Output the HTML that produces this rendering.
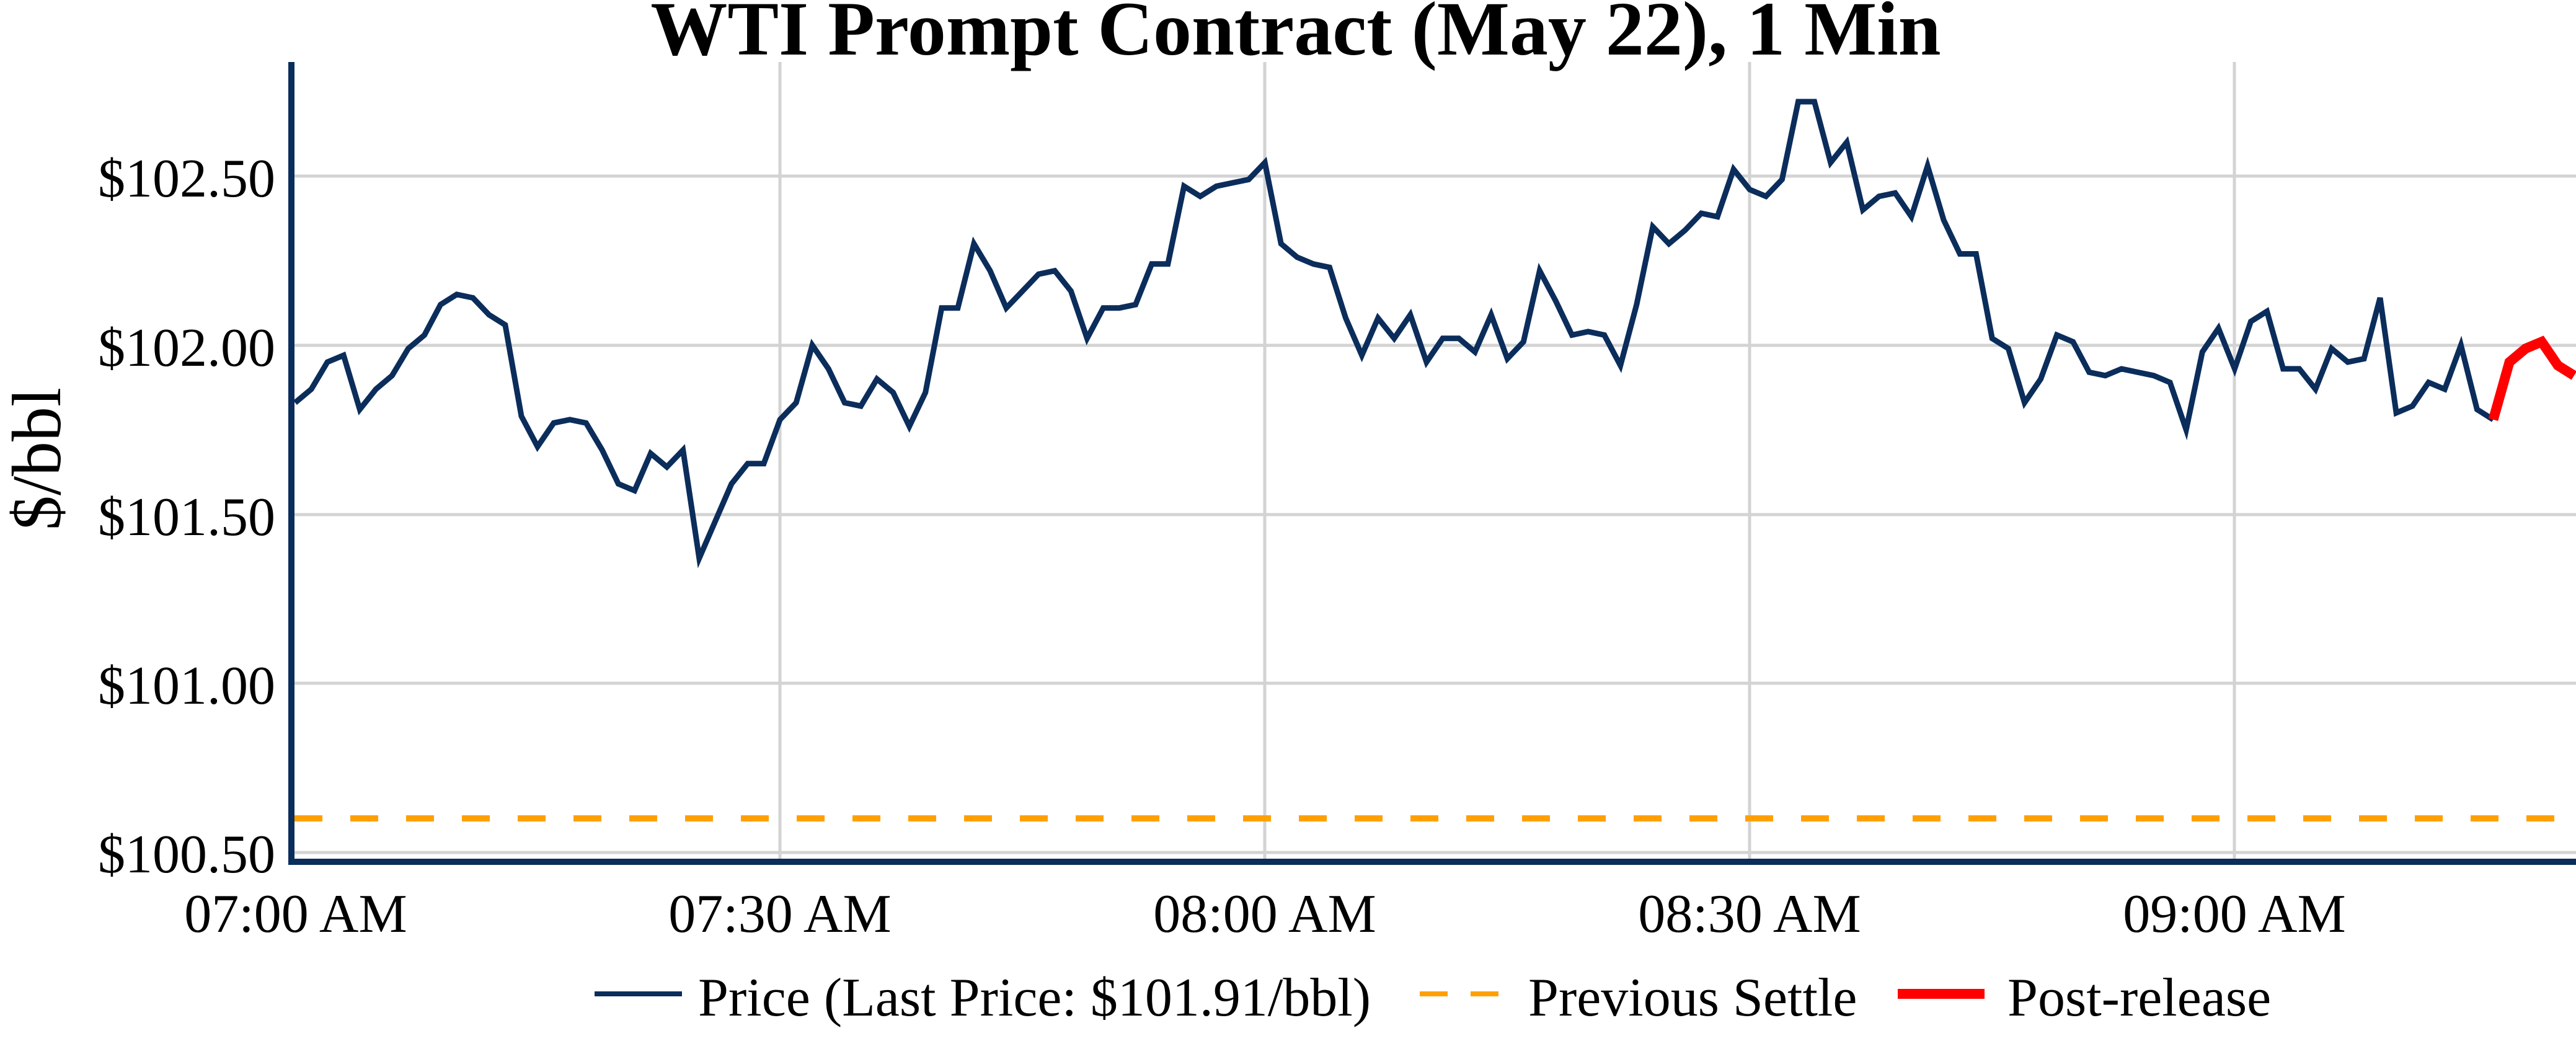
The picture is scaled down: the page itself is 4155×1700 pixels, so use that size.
<!DOCTYPE html>
<html><head><meta charset="utf-8"><style>
html,body{margin:0;padding:0;background:#fff}
svg{display:block;font-family:"Liberation Serif",serif}
</style></head><body>
<svg id="s" width="4155" height="1700" viewBox="0 0 4155 1700" xmlns="http://www.w3.org/2000/svg">
<defs><clipPath id="c"><rect x="470" y="100" width="3685" height="1290"/></clipPath></defs>
<text x="2090" y="88" font-size="124" font-weight="bold" text-anchor="middle">WTI Prompt Contract (May 22), 1 Min</text>
<g stroke="#d3d3d3" stroke-width="5">
<line x1="470" x2="4155" y1="284" y2="284"/>
<line x1="470" x2="4155" y1="557" y2="557"/>
<line x1="470" x2="4155" y1="830" y2="830"/>
<line x1="470" x2="4155" y1="1102" y2="1102"/>
<line x1="470" x2="4155" y1="1375" y2="1375"/>
<line x1="1258" x2="1258" y1="100" y2="1390"/>
<line x1="2040" x2="2040" y1="100" y2="1390"/>
<line x1="2822" x2="2822" y1="100" y2="1390"/>
<line x1="3604" x2="3604" y1="100" y2="1390"/>
</g>
<g font-size="88" text-anchor="end">
<text x="444" y="317">$102.50</text>
<text x="444" y="590">$102.00</text>
<text x="444" y="863">$101.50</text>
<text x="444" y="1135">$101.00</text>
<text x="444" y="1407">$100.50</text>
</g>
<g font-size="88" text-anchor="middle">
<text x="477" y="1503">07:00 AM</text>
<text x="1258" y="1503">07:30 AM</text>
<text x="2040" y="1503">08:00 AM</text>
<text x="2822" y="1503">08:30 AM</text>
<text x="3604" y="1503">09:00 AM</text>
</g>
<text transform="translate(97,740) rotate(-90)" font-size="112" text-anchor="middle">$/bbl</text>
<g clip-path="url(#c)">
<line x1="475" x2="4155" y1="1320" y2="1320" stroke="#ffa000" stroke-width="10" stroke-dasharray="45 45"/>
<polyline id="p" fill="none" stroke="#0b2d5b" stroke-width="9" stroke-linejoin="miter"/>
<polyline id="r" fill="none" stroke="#ff0000" stroke-width="16"/>
</g>
<line x1="470" x2="470" y1="100" y2="1395" stroke="#0b2d5b" stroke-width="10"/>
<line x1="465" x2="4155" y1="1390" y2="1390" stroke="#0b2d5b" stroke-width="10"/>
<g font-size="88">
<line x1="959" x2="1100" y1="1603" y2="1603" stroke="#0b2d5b" stroke-width="8"/>
<text x="1126" y="1638">Price (Last Price: $101.91/bbl)</text>
<line x1="2290" x2="2417" y1="1603" y2="1603" stroke="#ffa000" stroke-width="8" stroke-dasharray="45 37"/>
<text x="2465" y="1638">Previous Settle</text>
<line x1="3061" x2="3201" y1="1603" y2="1603" stroke="#ff0000" stroke-width="16"/>
<text x="3238" y="1638">Post-release</text>
</g>
</svg>
<script>
var v=[101.83,101.87,101.95,101.97,101.81,101.87,101.91,101.99,102.03,102.12,102.15,102.14,102.09,102.06,101.79,101.70,101.77,101.78,101.77,101.69,101.59,101.57,101.68,101.64,101.69,101.37,101.48,101.59,101.65,101.65,101.78,101.83,102.00,101.93,101.83,101.82,101.90,101.86,101.76,101.86,102.11,102.11,102.30,102.22,102.11,102.16,102.21,102.22,102.16,102.02,102.11,102.11,102.12,102.24,102.24,102.47,102.44,102.47,102.48,102.49,102.54,102.30,102.26,102.24,102.23,102.08,101.97,102.08,102.02,102.09,101.95,102.02,102.02,101.98,102.09,101.96,102.01,102.22,102.13,102.03,102.04,102.03,101.94,102.12,102.35,102.30,102.34,102.39,102.38,102.52,102.46,102.44,102.49,102.72,102.72,102.54,102.60,102.40,102.44,102.45,102.38,102.53,102.37,102.27,102.27,102.02,101.99,101.83,101.90,102.03,102.01,101.92,101.91,101.93,101.92,101.91,101.89,101.75,101.98,102.05,101.93,102.07,102.10,101.93,101.93,101.87,101.99,101.95,101.96,102.14,101.80,101.82,101.89,101.87,102.00,101.81,101.78];
var r=[101.78,101.95,101.99,102.01,101.94,101.91];
function pt(m,x){return (476+m*26.07).toFixed(1)+","+(1375-(x-100.5)*545.5).toFixed(1);}
document.getElementById("p").setAttribute("points",v.map(function(x,i){return pt(i,x)}).join(" "));
document.getElementById("r").setAttribute("points",r.map(function(x,i){return pt(136+i,x)}).join(" "));
</script>
</body></html>
